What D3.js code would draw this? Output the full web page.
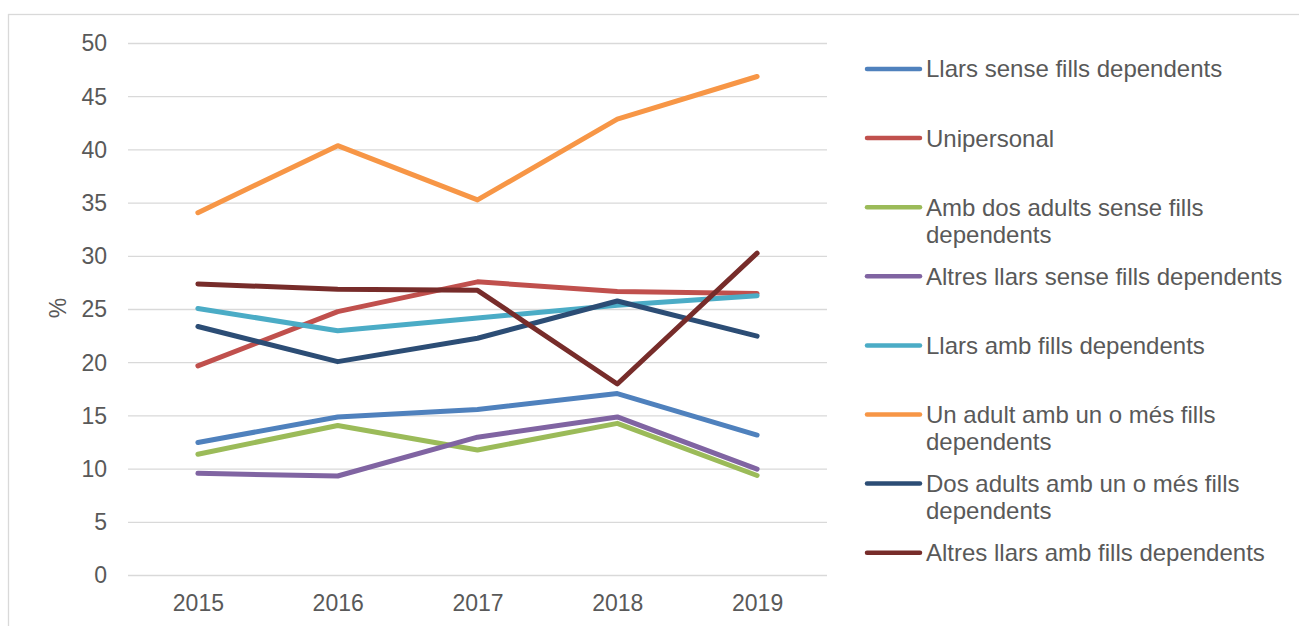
<!DOCTYPE html>
<html>
<head>
<meta charset="utf-8">
<script src="https://cdn.jsdelivr.net/npm/d3@7"></script>
<style>
  body { margin: 0; background: #fff; }
  svg { display: block; font-family: "Liberation Sans", Arial, sans-serif; }
</style>
</head>
<body>
<div id="chart"></div>
<script>
const years = ["2015", "2016", "2017", "2018", "2019"];
const yTicks = [0, 5, 10, 15, 20, 25, 30, 35, 40, 45, 50];

const seriesNames = [
    "Llars sense fills dependents",
    "Unipersonal",
    "Amb dos adults sense fills dependents",
    "Altres llars sense fills dependents",
    "Llars amb fills dependents",
    "Un adult amb un o més fills dependents",
    "Dos adults amb un o més fills dependents",
    "Altres llars amb fills dependents"
];

// legend text split into lines like the original
const legendLines = [
    ["Llars sense fills dependents"],
    ["Unipersonal"],
    ["Amb dos adults sense fills", "dependents"],
    ["Altres llars sense fills dependents"],
    ["Llars amb fills dependents"],
    ["Un adult amb un o més fills", "dependents"],
    ["Dos adults amb un o més fills", "dependents"],
    ["Altres llars amb fills dependents"]
];

const sinseFills     = [12.5, 14.9, 15.6, 17.1, 13.2];
const unipersonal    = [19.7, 24.8, 27.6, 26.7, 26.5];
const dosAdultsSense = [11.4, 14.1, 11.8, 14.3, 9.4];
const altresSense    = [9.6, 9.35, 13.0, 14.9, 10.0];
const ambFills       = [25.1, 23.0, 24.2, 25.4, 26.3];
const unAdult        = [34.1, 40.4, 35.3, 42.9, 46.9];
const dosAdultsAmb   = [23.4, 20.1, 22.3, 25.8, 22.5];
const altresAmb      = [27.4, 26.9, 26.8, 18.0, 30.3];

const seriesValues = [sinseFills, unipersonal, dosAdultsSense, altresSense,
                      ambFills, unAdult, dosAdultsAmb, altresAmb];

const colors = ["#4f81bd", "#c0504d", "#9bbb59", "#8064a2",
                "#4bacc6", "#f79646", "#2c4d75", "#772c2a"];

const width = 1299, height = 626;
const plot = {left: 128, right: 827, top: 43.5, bottom: 575.5};
const textColor = "#595959";
const fontSize = 23;
const legendFont = 24;

const svg = d3.select("#chart").append("svg")
    .attr("width", width)
    .attr("height", height);

// outer chart border (runs off the image at right / bottom)
svg.append("rect")
    .attr("x", 8.5).attr("y", 14.5)
    .attr("width", width + 10).attr("height", height + 10)
    .attr("fill", "none")
    .attr("stroke", "#d9d9d9")
    .attr("stroke-width", 1.3);

const x = d3.scalePoint()
    .domain(years)
    .range([plot.left, plot.right])
    .padding(0.5);

const y = d3.scaleLinear()
    .domain([0, 50])
    .range([plot.bottom, plot.top]);

// gridlines
svg.append("g")
    .selectAll("line")
    .data(yTicks)
    .join("line")
    .attr("x1", plot.left).attr("x2", plot.right)
    .attr("y1", d => y(d)).attr("y2", d => y(d))
    .attr("stroke", "#d9d9d9")
    .attr("stroke-width", 1.3);

// y axis labels
const yAxis = svg.append("g")
    .attr("transform", `translate(${plot.left - 21},0)`)
    .call(d3.axisLeft(y).tickValues(yTicks).tickSize(0).tickPadding(0));
yAxis.select(".domain").remove();
yAxis.selectAll("text")
    .attr("fill", textColor)
    .style("font-size", fontSize + "px");

// x axis labels
const xAxis = svg.append("g")
    .attr("transform", `translate(0,${plot.bottom})`)
    .call(d3.axisBottom(x).tickSize(0).tickPadding(19));
xAxis.select(".domain").remove();
xAxis.selectAll("text")
    .attr("fill", textColor)
    .style("font-size", fontSize + "px");

// y title
svg.append("text")
    .attr("transform", "translate(58,308) rotate(-90)")
    .attr("text-anchor", "middle")
    .attr("dy", "0.35em")
    .attr("fill", textColor)
    .style("font-size", fontSize + "px")
    .text("%");

// lines
const line = d3.line()
    .x((d, i) => x(years[i]))
    .y(d => y(d));

svg.append("g")
    .selectAll("path")
    .data(seriesValues)
    .join("path")
    .attr("d", line)
    .attr("fill", "none")
    .attr("stroke", (d, i) => colors[i])
    .attr("stroke-width", 5)
    .attr("stroke-linecap", "round")
    .attr("stroke-linejoin", "round");

// legend
const legend = svg.append("g");
const legendTop = 69, legendStep = 69.1;

const items = legend.selectAll("g")
    .data(seriesNames)
    .join("g")
    .attr("transform", (d, i) => `translate(0,${legendTop + i * legendStep})`);

items.append("line")
    .attr("x1", 867).attr("x2", 920)
    .attr("stroke", (d, i) => colors[i])
    .attr("stroke-width", 4.5)
    .attr("stroke-linecap", "round");

items.append("text")
    .attr("x", 926)
    .attr("fill", textColor)
    .style("font-size", legendFont + "px")
    .each(function(d, i) {
        d3.select(this).selectAll("tspan")
            .data(legendLines[i])
            .join("tspan")
            .attr("x", 926)
            .attr("y", (t, j) => j * 27)
            .attr("dy", "0.35em")
            .text(t => t);
    });
</script>
</body>
</html>
